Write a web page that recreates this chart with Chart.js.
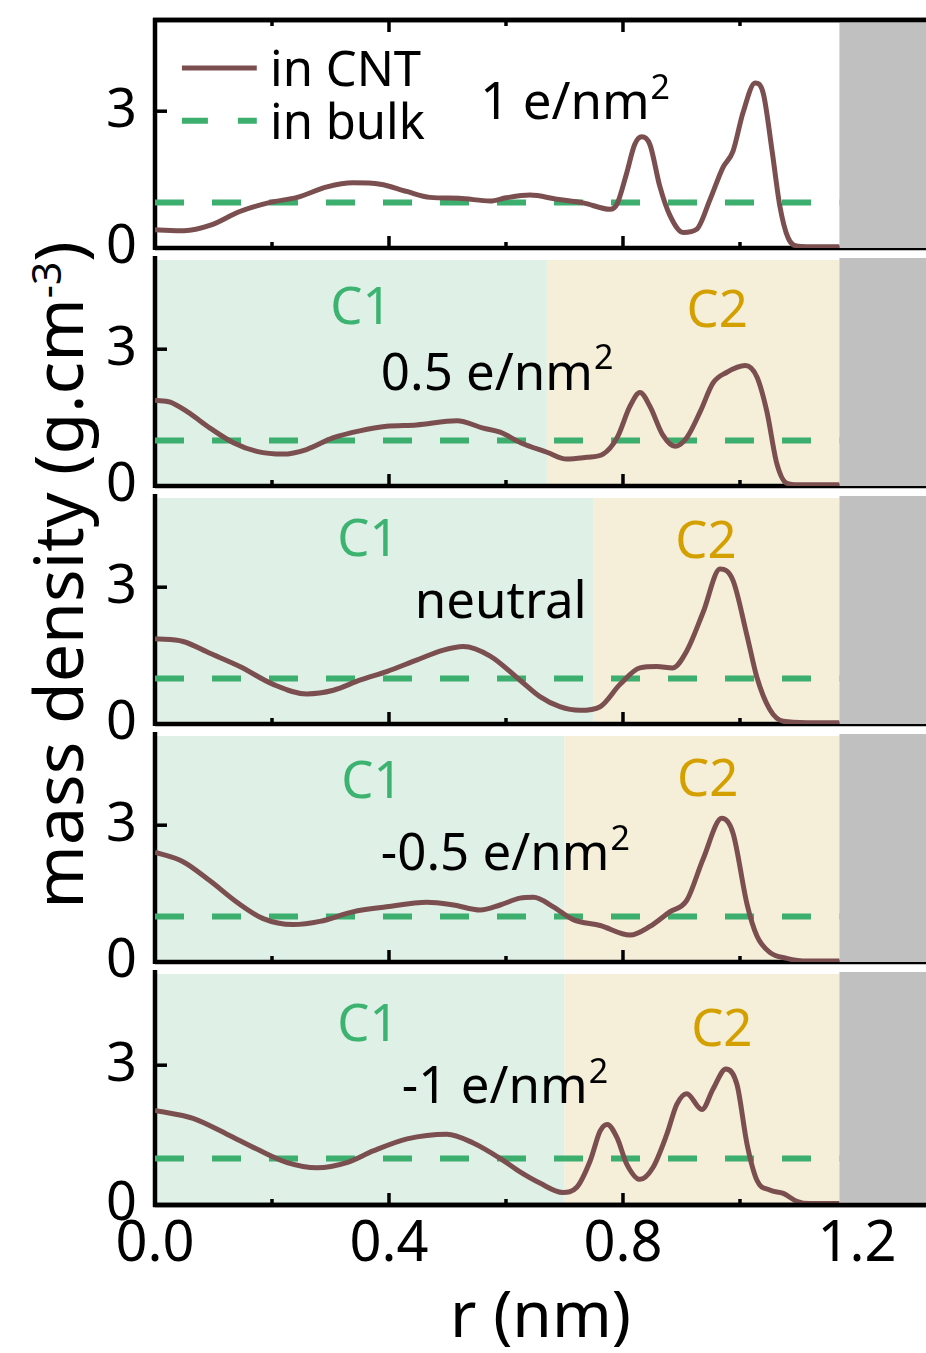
<!DOCTYPE html>
<html>
<head>
<meta charset="utf-8">
<script src="https://cdn.jsdelivr.net/npm/chart.js@4.4.1/dist/chart.umd.min.js"></script>
<style>
  html, body { margin: 0; padding: 0; background: #fff; }
  body { width: 926px; height: 1353px; position: relative; overflow: hidden; font-family: "Noto Sans", sans-serif; }
  canvas { position: absolute; left: 0; }
  #ytitle {
    position: absolute; left: 57px; top: 575px;
    transform: translate(-50%, -50%) rotate(-90deg);
    font-size: 68px; line-height: 1; white-space: nowrap; color: #000;
  }
  #ytitle sup { font-size: 0.6em; vertical-align: 0.55em; line-height: 0; }
</style>
</head>
<body>
<div id="ytitle">mass density (g.cm<sup>-3</sup>)</div>
<script>
// --- axis ranges / ticks ---
const rMax = 1.318;
const rhoMax = 5;
const xMajorTicks = [0, 0.4, 0.8, 1.2];
const xMinorTicks = [0.2, 0.6, 1.0];
const yTicks = [0, 3];
const wallStart = 1.17;          // CNT wall (grey block)
const bulkR = [0, 1.17];
const bulkRho = [1, 1];

// --- one panel per surface charge ---
const panelNames = ['1 e/nm', '0.5 e/nm', 'neutral', '-0.5 e/nm', '-1 e/nm'];
const panelSup = ['2', '2', '', '2', '2'];
const zoneEdge = [null, 0.67, 0.75, 0.70, 0.70];   // C1 | C2 boundary (nm)

// 1 e/nm2
const r1 = [0, 0.05, 0.095, 0.145, 0.197, 0.243, 0.294, 0.338, 0.385, 0.43, 0.47, 0.52, 0.573, 0.60, 0.641, 0.687, 0.732, 0.778, 0.79, 0.806, 0.82, 0.832, 0.846, 0.863, 0.88, 0.903, 0.926, 0.949, 0.971, 0.988, 1.005, 1.026, 1.04, 1.055, 1.068, 1.082, 1.10, 1.12, 1.17];
const rho1 = [0.40, 0.38, 0.50, 0.80, 1.00, 1.11, 1.34, 1.43, 1.40, 1.24, 1.11, 1.09, 1.03, 1.10, 1.16, 1.07, 0.99, 0.85, 0.97, 1.63, 2.27, 2.44, 2.27, 1.35, 0.72, 0.34, 0.41, 1.07, 1.77, 2.12, 2.96, 3.62, 3.38, 2.12, 0.93, 0.23, 0.04, 0.03, 0.03];
// 0.5 e/nm2
const r2 = [0, 0.026, 0.055, 0.094, 0.134, 0.174, 0.219, 0.259, 0.305, 0.35, 0.396, 0.447, 0.516, 0.561, 0.59, 0.625, 0.67, 0.704, 0.738, 0.766, 0.79, 0.812, 0.829, 0.846, 0.868, 0.889, 0.909, 0.932, 0.954, 0.977, 1.009, 1.029, 1.046, 1.063, 1.08, 1.10, 1.17];
const rho2 = [1.88, 1.84, 1.63, 1.27, 0.95, 0.76, 0.70, 0.80, 1.06, 1.21, 1.31, 1.34, 1.43, 1.27, 1.18, 0.95, 0.74, 0.59, 0.63, 0.70, 1.06, 1.75, 2.05, 1.75, 1.12, 0.87, 1.06, 1.63, 2.26, 2.49, 2.64, 2.39, 1.63, 0.49, 0.06, 0.03, 0.03];
// neutral
const r3 = [0, 0.048, 0.094, 0.145, 0.202, 0.259, 0.305, 0.35, 0.396, 0.447, 0.493, 0.527, 0.573, 0.624, 0.658, 0.692, 0.726, 0.761, 0.795, 0.829, 0.858, 0.885, 0.909, 0.937, 0.966, 0.988, 1.012, 1.029, 1.051, 1.074, 1.115, 1.17];
const rho3 = [1.87, 1.81, 1.55, 1.26, 0.87, 0.66, 0.74, 0.96, 1.15, 1.40, 1.62, 1.70, 1.49, 0.96, 0.60, 0.38, 0.30, 0.38, 0.87, 1.23, 1.26, 1.23, 1.60, 2.45, 3.40, 3.15, 1.94, 1.02, 0.32, 0.06, 0.03, 0.03];
// -0.5 e/nm2
const r4 = [0, 0.048, 0.094, 0.14, 0.185, 0.236, 0.282, 0.338, 0.396, 0.465, 0.51, 0.556, 0.59, 0.624, 0.647, 0.681, 0.715, 0.761, 0.812, 0.846, 0.88, 0.909, 0.937, 0.969, 0.988, 1.012, 1.029, 1.051, 1.08, 1.115, 1.17];
const rho4 = [2.41, 2.20, 1.78, 1.31, 0.95, 0.82, 0.89, 1.10, 1.21, 1.31, 1.25, 1.14, 1.25, 1.40, 1.42, 1.21, 0.93, 0.80, 0.59, 0.78, 1.10, 1.35, 2.26, 3.15, 2.83, 1.27, 0.57, 0.21, 0.08, 0.02, 0.02];
// -1 e/nm2
const r5 = [0, 0.065, 0.123, 0.174, 0.226, 0.277, 0.328, 0.373, 0.431, 0.499, 0.544, 0.59, 0.624, 0.658, 0.697, 0.721, 0.744, 0.761, 0.773, 0.79, 0.806, 0.829, 0.851, 0.875, 0.892, 0.909, 0.935, 0.954, 0.976, 0.995, 1.012, 1.029, 1.051, 1.074, 1.097, 1.12, 1.17];
const rho5 = [2.03, 1.86, 1.52, 1.20, 0.91, 0.80, 0.91, 1.16, 1.42, 1.52, 1.33, 1.00, 0.71, 0.47, 0.27, 0.38, 0.95, 1.59, 1.73, 1.44, 0.89, 0.55, 0.80, 1.52, 2.16, 2.39, 2.05, 2.49, 2.92, 2.58, 1.31, 0.53, 0.32, 0.25, 0.08, 0.03, 0.03];

const rSets = [r1, r2, r3, r4, r5];
const rhoSets = [rho1, rho2, rho3, rho4, rho5];

// --- look ---
const FONT = '"Noto Sans", sans-serif';
const BROWN = '#7b4f4f';
const GREEN = '#3cae6e';
const C1_BG = '#dff0e6';
const C2_BG = '#f5efd9';
const C1_TXT = '#3cb371';
const C2_TXT = '#d4a000';
const WALL = '#c0c0c0';

const PANEL_TOP = 15, PANEL_H = 238, AXIS_LEFT = 155, PAD = 40, XAXIS_H = 148;

// label anchors in (r, rho) of each panel
const labelAt = [
  { name: [0.556, 2.82] },
  { c1: [0.352, 3.55], c2: [0.961, 3.49], name: [0.386, 2.11] },
  { c1: [0.364, 3.68], c2: [0.942, 3.64], name: [0.444, 2.33] },
  { c1: [0.371, 3.59], c2: [0.945, 3.64], name: [0.386, 2.01] },
  { c1: [0.364, 3.51], c2: [0.969, 3.42], name: [0.422, 2.18] }
];

function seg(ctx, x1, y1, x2, y2) {
  ctx.beginPath(); ctx.moveTo(x1, y1); ctx.lineTo(x2, y2); ctx.stroke();
}

function text(ctx, str, x, y, size, color, align, sup) {
  ctx.font = size + 'px ' + FONT;
  ctx.fillStyle = color;
  ctx.textBaseline = 'alphabetic';
  ctx.textAlign = 'left';
  const w = ctx.measureText(str).width;
  const x0 = align === 'center' ? x - w / 2 : x;
  ctx.fillText(str, x0, y);
  if (sup) {
    ctx.font = Math.round(size * 0.66) + 'px ' + FONT;
    ctx.fillText(sup, x0 + w + 1, y - size * 0.4);
  }
}

const panelDecor = {
  id: 'panelDecor',
  beforeDatasetsDraw(chart, args, opts) {
    const {ctx, chartArea: a, scales: {x, y}} = chart;
    const i = opts.index;
    const first = i === 0;
    ctx.save();
    // C1 / C2 zones
    if (zoneEdge[i] != null) {
      const xe = x.getPixelForValue(zoneEdge[i]);
      const xw = x.getPixelForValue(wallStart);
      const top = a.top + 2;
      ctx.fillStyle = C1_BG;
      ctx.fillRect(a.left, top, xe - a.left, a.bottom - top);
      ctx.fillStyle = C2_BG;
      ctx.fillRect(xe, top, xw - xe, a.bottom - top);
    }
    // frame
    ctx.strokeStyle = '#000';
    ctx.lineWidth = 4.5;
    seg(ctx, a.left, a.top - 2, a.left, a.bottom + 2);
    seg(ctx, a.left, a.bottom, a.right, a.bottom);
    if (first) seg(ctx, a.left - 2, a.top, a.right, a.top);
    // inward ticks
    ctx.lineWidth = 3.5;
    const tick = (v, len) => {
      const px = x.getPixelForValue(v);
      seg(ctx, px, a.bottom, px, a.bottom - len);
      if (first) seg(ctx, px, a.top, px, a.top + len);
    };
    xMajorTicks.forEach(v => tick(v, 12));
    xMinorTicks.forEach(v => tick(v, 6));
    yTicks.forEach(v => {
      const py = y.getPixelForValue(v);
      seg(ctx, a.left, py, a.left + 12, py);
    });
    ctx.restore();
  },
  afterDatasetsDraw(chart, args, opts) {
    const {ctx, chartArea: a, scales: {x, y}} = chart;
    const i = opts.index;
    const at = labelAt[i];
    ctx.save();
    // texts
    if (at.c1) text(ctx, 'C1', x.getPixelForValue(at.c1[0]), y.getPixelForValue(at.c1[1]), 51, C1_TXT, 'center');
    if (at.c2) text(ctx, 'C2', x.getPixelForValue(at.c2[0]), y.getPixelForValue(at.c2[1]), 51, C2_TXT, 'center');
    text(ctx, panelNames[i], x.getPixelForValue(at.name[0]), y.getPixelForValue(at.name[1]), 51, '#000', 'left', panelSup[i]);

    if (i === 0) {
      // legend key
      const lx1 = x.getPixelForValue(0.046), lx2 = x.getPixelForValue(0.174);
      ctx.lineCap = 'butt';
      ctx.strokeStyle = BROWN; ctx.lineWidth = 5;
      seg(ctx, lx1, y.getPixelForValue(3.95), lx2, y.getPixelForValue(3.95));
      ctx.strokeStyle = GREEN; ctx.lineWidth = 6;
      ctx.setLineDash([26, 30]);
      seg(ctx, lx1, y.getPixelForValue(2.79), lx2, y.getPixelForValue(2.79));
      ctx.setLineDash([]);
      const tx = x.getPixelForValue(0.2) - 2;
      text(ctx, 'in CNT', tx, y.getPixelForValue(3.55), 49, '#000', 'left');
      text(ctx, 'in bulk', tx, y.getPixelForValue(2.39), 49, '#000', 'left');
    }

    // CNT wall
    const xw = x.getPixelForValue(wallStart);
    ctx.fillStyle = WALL;
    ctx.fillRect(xw, a.top, a.right - xw, a.bottom - a.top);
    ctx.strokeStyle = '#000';
    ctx.lineWidth = 4.5;
    if (i === 0) seg(ctx, a.left - 2, a.top, a.right, a.top);
    if (i === rSets.length - 1) seg(ctx, a.left - 2, a.bottom, a.right, a.bottom);
    ctx.restore();
  }
};

rSets.forEach((rs, i) => {
  const last = i === rSets.length - 1;
  const cv = document.createElement('canvas');
  cv.width = 926;
  cv.height = PAD + PANEL_H + (last ? XAXIS_H : PAD);
  cv.style.top = (PANEL_TOP + i * PANEL_H - PAD) + 'px';
  document.body.appendChild(cv);

  new Chart(cv, {
    type: 'line',
    data: {
      datasets: [
        {
          label: 'in CNT',
          data: rs.map((r, k) => ({x: r, y: rhoSets[i][k]})),
          borderColor: BROWN,
          borderWidth: 5,
          pointRadius: 0,
          cubicInterpolationMode: 'monotone',
          fill: false
        },
        {
          label: 'in bulk',
          data: bulkR.map((r, k) => ({x: r, y: bulkRho[k]})),
          borderColor: GREEN,
          borderWidth: 6,
          borderDash: [29, 28],
          pointRadius: 0,
          fill: false
        }
      ]
    },
    options: {
      responsive: false,
      animation: false,
      events: [],
      layout: { padding: { top: PAD, bottom: last ? 0 : PAD, left: 0, right: 0 } },
      plugins: {
        legend: { display: false },
        tooltip: { enabled: false },
        panelDecor: { index: i }
      },
      scales: {
        x: {
          type: 'linear', min: 0, max: rMax, display: last,
          grid: { display: false, drawTicks: false },
          border: { display: false },
          afterBuildTicks: s => { s.ticks = xMajorTicks.map(v => ({value: v})); },
          afterFit: s => { if (last) s.height = XAXIS_H; },
          ticks: {
            color: '#000', padding: 12, maxRotation: 0, autoSkip: false,
            font: { family: FONT, size: 56, lineHeight: 1 },
            callback: v => Number(v).toFixed(1)
          },
          title: {
            display: last, text: 'r (nm)', color: '#000',
            font: { family: FONT, size: 64, lineHeight: 1 },
            padding: { top: 0, bottom: 2 }
          }
        },
        y: {
          min: 0, max: rhoMax,
          grid: { display: false, drawTicks: false },
          border: { display: false },
          afterBuildTicks: s => { s.ticks = yTicks.map(v => ({value: v})); },
          afterFit: s => { s.width = AXIS_LEFT; },
          ticks: {
            color: '#000', padding: 18,
            font: { family: FONT, size: 54, lineHeight: 1 },
            callback: v => String(v)
          }
        }
      }
    },
    plugins: [panelDecor]
  });
});
</script>
</body>
</html>
